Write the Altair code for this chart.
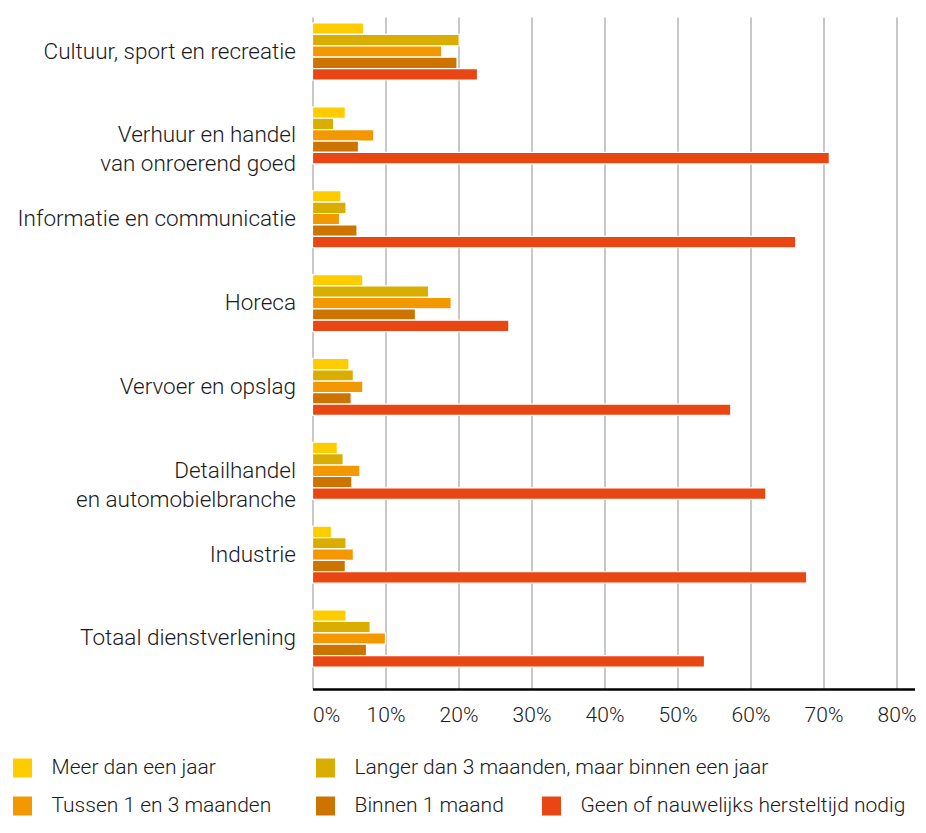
import altair as alt
import pandas as pd

categories = [
    "Cultuur, sport en recreatie",
    "Verhuur en handel\nvan onroerend goed",
    "Informatie en communicatie",
    "Horeca",
    "Vervoer en opslag",
    "Detailhandel\nen automobielbranche",
    "Industrie",
    "Totaal dienstverlening",
]
series = [
    "Meer dan een jaar",
    "Langer dan 3 maanden, maar binnen een jaar",
    "Tussen 1 en 3 maanden",
    "Binnen 1 maand",
    "Geen of nauwelijks hersteltijd nodig",
]
colors = ["#FFCC00", "#D9AE00", "#F39800", "#CC7300", "#E84612"]

# values in percent, per category (same order as categories)
meer = [7.0, 4.5, 3.9, 6.9, 5.0, 3.4, 2.6, 4.6]
langer = [20.1, 2.9, 4.6, 15.9, 5.6, 4.2, 4.6, 7.9]
tussen = [17.7, 8.4, 3.7, 19.0, 6.9, 6.5, 5.6, 10.0]
binnen = [19.8, 6.3, 6.1, 14.1, 5.3, 5.4, 4.5, 7.4]
geen = [22.6, 70.8, 66.2, 26.9, 57.3, 62.1, 67.7, 53.7]

x_ticks = [0, 10, 20, 30, 40, 50, 60, 70, 80]

FONT = "Roboto"
TEXT_COLOR = "#1a1a1a"

PLOT_W = 602
PLOT_H = 680
X_MAX = 0.8 * PLOT_W / 584.0  # 80% gridline 584 px from the origin

rows = []
for i, cat in enumerate(categories):
    for s, vals in zip(series, [meer, langer, tussen, binnen, geen]):
        rows.append({"cat": cat, "series": s, "value": vals[i] / 100.0})
df = pd.DataFrame(rows)

color_scale = alt.Scale(domain=series, range=colors)

bars = alt.Chart(df).mark_bar(stroke="white", strokeWidth=1.2).encode(
    y=alt.Y(
        "cat:N",
        sort=categories,
        title=None,
        scale=alt.Scale(range=[0, 672], paddingInner=0.32, paddingOuter=0.167),
        axis=alt.Axis(
            domain=False,
            ticks=False,
            grid=False,
            labelFontSize=22.5,
            labelFont=FONT,
            labelFontWeight=300,
            labelColor=TEXT_COLOR,
            labelPadding=17,
            labelLimit=500,
            labelLineHeight=29,
            labelExpr="split(datum.label, '\\n')",
        ),
    ),
    yOffset=alt.YOffset("series:N", sort=series, scale=alt.Scale(paddingInner=0, paddingOuter=0)),
    x=alt.X(
        "value:Q",
        title=None,
        scale=alt.Scale(domain=[0, X_MAX], nice=False, zero=True),
        axis=alt.Axis(
            values=[t / 100.0 for t in x_ticks],
            format=".0%",
            ticks=False,
            domainColor="black",
            domainWidth=2.5,
            gridColor="#C8C8C8",
            gridWidth=2,
            labelFontSize=21,
            labelFont=FONT,
            labelFontWeight=300,
            labelColor=TEXT_COLOR,
            labelPadding=15,
        ),
    ),
    color=alt.Color("series:N", sort=series, scale=color_scale, legend=None),
)

# custom flow legend (two rows, as in the reference)
col_x = [-290, 13, 239]
row_y = [759, 797]
slots = [(0, 0), (1, 0), (0, 1), (1, 1), (2, 1)]
leg_rows = []
for s, (c, r) in zip(series, slots):
    leg_rows.append({"series": s, "px": col_x[c], "py": row_y[r], "tx": col_x[c] + 29})
leg_df = pd.DataFrame(leg_rows)

leg_sq = alt.Chart(leg_df).mark_square(size=361, opacity=1).encode(
    x=alt.X("px:Q", scale=None, axis=None),
    y=alt.Y("py:Q", scale=None, axis=None),
    color=alt.Color("series:N", sort=series, scale=color_scale, legend=None),
)
leg_tx = alt.Chart(leg_df).mark_text(
    align="left", baseline="middle", fontSize=21, font=FONT, fontWeight=300, color=TEXT_COLOR
).encode(
    x=alt.X("tx:Q", scale=None, axis=None),
    y=alt.Y("py:Q", scale=None, axis=None),
    text="series:N",
)

chart = (
    alt.layer(bars, leg_sq, leg_tx)
    .resolve_scale(x="independent", y="independent")
    .properties(
        width=PLOT_W,
        height=PLOT_H,
        padding={"left": 4.5, "top": 1, "right": 0, "bottom": 0},
        background="white",
    )
    .configure_view(stroke=None)
)

chart.save("out.html", embed_options={"renderer": "svg", "actions": False})
